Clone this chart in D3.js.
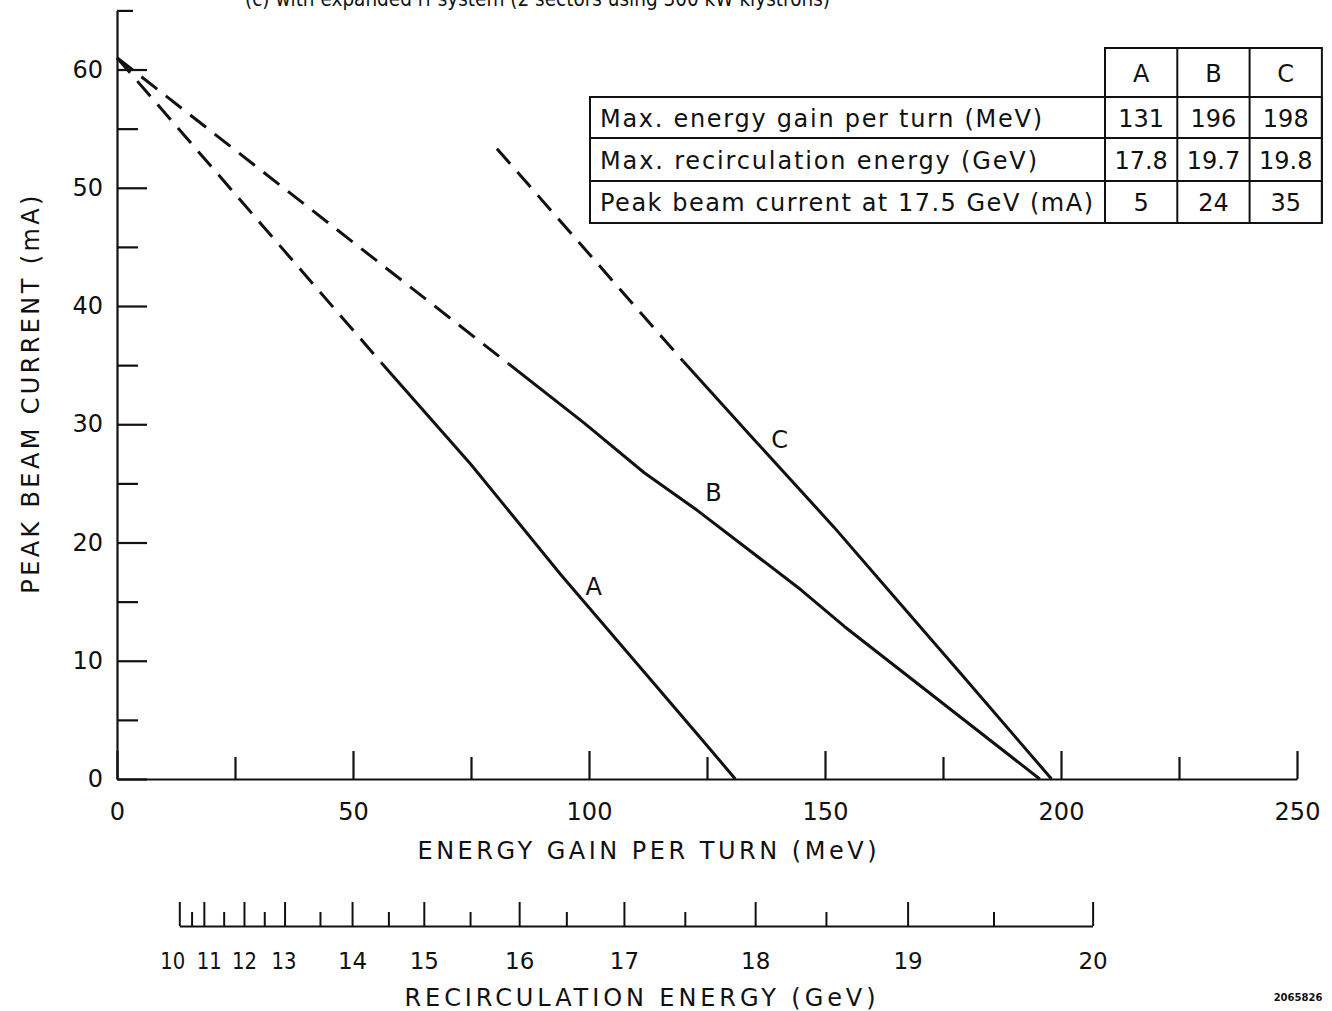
<!DOCTYPE html>
<html>
<head>
<meta charset="utf-8">
<script src="https://cdn.jsdelivr.net/npm/d3@7"></script>
<style>
  body { margin: 0; background: #fff; }
  svg { display: block; }
  text { font-family: "DejaVu Sans", sans-serif; fill: #111; }
</style>
</head>
<body>
<svg id="chart" width="1332" height="1011"></svg>
<script>
// curves, energy gain per turn (MeV) vs peak beam current (mA)
const aDashGain = [0, 56];
const aDashCurrent = [61, 35.2];
const aSolidGain = [56, 75, 94, 112, 124, 131];
const aSolidCurrent = [35.2, 26.6, 17.3, 8.9, 3.3, 0];

const bDashGain = [0, 83];
const bDashCurrent = [61, 35.1];
const bSolidGain = [83, 99, 111.7, 123, 144.9, 154.1, 195.5];
const bSolidCurrent = [35.1, 30.1, 25.9, 22.7, 16, 12.9, 0];

const cDashGain = [80.5, 120];
const cDashCurrent = [53.3, 35.3];
const cSolidGain = [120, 135, 151.9, 164.7, 178.8, 198];
const cSolidCurrent = [35.3, 28.7, 21.3, 15.4, 8.9, 0];

// where each curve letter sits (gain, current)
const curveNames = ["A", "B", "C"];
const labelGain = [101, 126.4, 140.4];
const labelCurrent = [16, 23.9, 28.4];

// axis ticks
const gainMajor = [0, 50, 100, 150, 200, 250];
const gainMinor = [25, 75, 125, 175, 225];
const currentMajor = [0, 10, 20, 30, 40, 50, 60];
const currentMinor = [5, 15, 25, 35, 45, 55];

// recirculation energy (GeV) and the energy gain per turn it matches (MeV)
const recircEnergy = [10, 10.5, 11, 11.5, 12, 12.5, 13, 13.5, 14, 14.5, 15, 15.5, 16, 16.5, 17, 17.5, 18, 18.5, 19, 19.5, 20];
const recircGain = [13.2, 15.8, 18.4, 22.6, 26.9, 31.2, 35.5, 43.0, 49.8, 57.5, 65.0, 74.8, 85.2, 95.2, 107.4, 120.3, 135.2, 150.2, 167.5, 185.7, 206.7];

// table
const tableCols = ["A", "B", "C"];
const tableRows = ["Max. energy gain per turn (MeV)", "Max. recirculation energy (GeV)", "Peak beam current at 17.5 GeV (mA)"];
const tableValues = [["131", "196", "198"], ["17.8", "19.7", "19.8"], ["5", "24", "35"]];

const svg = d3.select("#chart");

const x = d3.scaleLinear().domain([0, 250]).range([117, 1297]);
const y = d3.scaleLinear().domain([0, 65]).range([779, 10.4]);

// title, mostly cut off at the top of the page
svg.append("text")
  .attr("x", 245).attr("y", 6)
  .attr("textLength", 585)
  .attr("lengthAdjust", "spacingAndGlyphs")
  .style("font-size", "22px")
  .text("(c)  with expanded rf system (2 sectors using 300 kW klystrons)");

// y axis
const yG = svg.append("g").attr("transform", `translate(${x(0)},0)`);
yG.call(d3.axisRight(y).tickValues(currentMajor).tickSize(30).tickSizeOuter(0).tickFormat(""));
yG.append("g").call(d3.axisRight(y).tickValues(currentMinor).tickSize(21).tickSizeOuter(0).tickFormat(""))
  .select(".domain").remove();
yG.append("g").call(d3.axisRight(y).tickValues([65]).tickSize(16).tickSizeOuter(0).tickFormat(""))
  .select(".domain").remove();
yG.append("g").call(d3.axisLeft(y).tickValues(currentMajor).tickSize(0).tickPadding(14))
  .call(g => g.select(".domain").remove())
  .selectAll("text").style("font-size", "24px").style("font-family", "DejaVu Sans");

// x axis
const xG = svg.append("g").attr("transform", `translate(0,${y(0)})`);
xG.call(d3.axisTop(x).tickValues(gainMajor).tickSize(28).tickSizeOuter(0).tickFormat(""));
xG.append("g").call(d3.axisTop(x).tickValues(gainMinor).tickSize(22).tickSizeOuter(0).tickFormat(""))
  .select(".domain").remove();
xG.append("g").call(d3.axisBottom(x).tickValues(gainMajor).tickSize(0).tickPadding(24))
  .call(g => g.select(".domain").remove())
  .selectAll("text").style("font-size", "24px").style("font-family", "DejaVu Sans");

svg.selectAll(".domain, .tick line").attr("stroke", "#111").attr("stroke-width", 2.2);

// axis titles
svg.append("text")
  .attr("transform", `translate(39,${(y(0) + y(65)) / 2}) rotate(-90)`)
  .attr("text-anchor", "middle")
  .attr("textLength", 398)
  .style("font-size", "24px")
  .text("PEAK BEAM CURRENT (mA)");

svg.append("text")
  .attr("x", 647).attr("y", 859)
  .attr("text-anchor", "middle")
  .attr("textLength", 459)
  .style("font-size", "24px")
  .text("ENERGY GAIN PER TURN (MeV)");

// recirculation energy axis, same positions as the gain it matches
const e = d3.scaleLinear().domain(recircEnergy).range(recircGain.map(x));
const eMajor = recircEnergy.filter(v => Number.isInteger(v));
const eMinor = recircEnergy.filter(v => !Number.isInteger(v));
const eG = svg.append("g").attr("transform", "translate(0,926)");
eG.call(d3.axisTop(e).tickValues(eMajor).tickSize(24).tickSizeOuter(0).tickFormat(""));
eG.append("g").call(d3.axisTop(e).tickValues(eMinor).tickSize(14).tickSizeOuter(0).tickFormat(""))
  .select(".domain").remove();
// labels of the crowded low end are drawn narrow and nudged apart, as in the original
const eNudge = { 10: -7, 11: 5, 12: 0, 13: -1 };
eG.append("g").call(d3.axisBottom(e).tickValues(eMajor).tickSize(0).tickPadding(27))
  .call(g => g.select(".domain").remove())
  .selectAll("text")
  .style("font-size", "23px").style("font-family", "DejaVu Sans")
  .attr("dx", d => eNudge[d] || 0)
  .attr("textLength", d => d in eNudge ? 25 : null)
  .attr("lengthAdjust", "spacingAndGlyphs");
eG.selectAll(".domain, .tick line").attr("stroke", "#111").attr("stroke-width", 2);

svg.append("text")
  .attr("x", 640).attr("y", 1006)
  .attr("text-anchor", "middle")
  .attr("textLength", 471)
  .style("font-size", "24px")
  .text("RECIRCULATION ENERGY (GeV)");

// curves
const line = d3.line().x(d => x(d[0])).y(d => y(d[1]));
const segments = [
  { g: aDashGain, c: aDashCurrent, dash: true },
  { g: aSolidGain, c: aSolidCurrent, dash: false },
  { g: bDashGain, c: bDashCurrent, dash: true },
  { g: bSolidGain, c: bSolidCurrent, dash: false },
  { g: cDashGain, c: cDashCurrent, dash: true },
  { g: cSolidGain, c: cSolidCurrent, dash: false }
];
svg.selectAll(".curve")
  .data(segments)
  .enter()
  .append("path")
  .attr("class", "curve")
  .attr("d", s => line(s.g.map((v, i) => [v, s.c[i]])))
  .attr("fill", "none")
  .attr("stroke", "#111")
  .attr("stroke-width", 3)
  .attr("stroke-linejoin", "round")
  .attr("stroke-dasharray", s => s.dash ? "20,11" : null);

svg.selectAll(".curve-label")
  .data(curveNames)
  .enter()
  .append("text")
  .attr("class", "curve-label")
  .attr("x", (d, i) => x(labelGain[i]))
  .attr("y", (d, i) => y(labelCurrent[i]) + 5)
  .attr("text-anchor", "middle")
  .style("font-size", "24px")
  .text(d => d);

// table
const tLeft = 590, tSplit = 1105, colW = 72.3;
const rowTops = [48, 97, 138, 181, 223];
const tbl = svg.append("g").attr("stroke", "#111").attr("stroke-width", 2);
tbl.append("rect").attr("x", tSplit).attr("y", rowTops[0])
  .attr("width", colW * 3).attr("height", rowTops[4] - rowTops[0]).attr("fill", "none");
tbl.append("rect").attr("x", tLeft).attr("y", rowTops[1])
  .attr("width", tSplit + colW * 3 - tLeft).attr("height", rowTops[4] - rowTops[1]).attr("fill", "none");
[1, 2].forEach(i => tbl.append("line")
  .attr("x1", tSplit + colW * i).attr("x2", tSplit + colW * i)
  .attr("y1", rowTops[0]).attr("y2", rowTops[4]));
[2, 3].forEach(i => tbl.append("line")
  .attr("x1", tLeft).attr("x2", tSplit + colW * 3)
  .attr("y1", rowTops[i]).attr("y2", rowTops[i]));

svg.selectAll(".col-head")
  .data(tableCols)
  .enter()
  .append("text")
  .attr("x", (d, i) => tSplit + colW * (i + 0.5))
  .attr("y", (rowTops[0] + rowTops[1]) / 2 + 9)
  .attr("text-anchor", "middle")
  .style("font-size", "24px")
  .text(d => d);

const rowLens = [442, 437, 493];
svg.selectAll(".row-head")
  .data(tableRows)
  .enter()
  .append("text")
  .attr("x", 600)
  .attr("y", (d, i) => (rowTops[i + 1] + rowTops[i + 2]) / 2 + 9)
  .attr("textLength", (d, i) => rowLens[i])
  .style("font-size", "24px")
  .text(d => d);

tableValues.forEach((row, r) => {
  svg.selectAll(".val-" + r)
    .data(row)
    .enter()
    .append("text")
    .attr("x", (d, i) => tSplit + colW * (i + 0.5))
    .attr("y", (rowTops[r + 1] + rowTops[r + 2]) / 2 + 9)
    .attr("text-anchor", "middle")
    .style("font-size", "24px")
    .text(d => d);
});

// figure number
svg.append("text")
  .attr("x", 1298).attr("y", 1001)
  .attr("text-anchor", "middle")
  .style("font-size", "10px")
  .style("font-weight", "bold")
  .text("2065826");
</script>
</body>
</html>
